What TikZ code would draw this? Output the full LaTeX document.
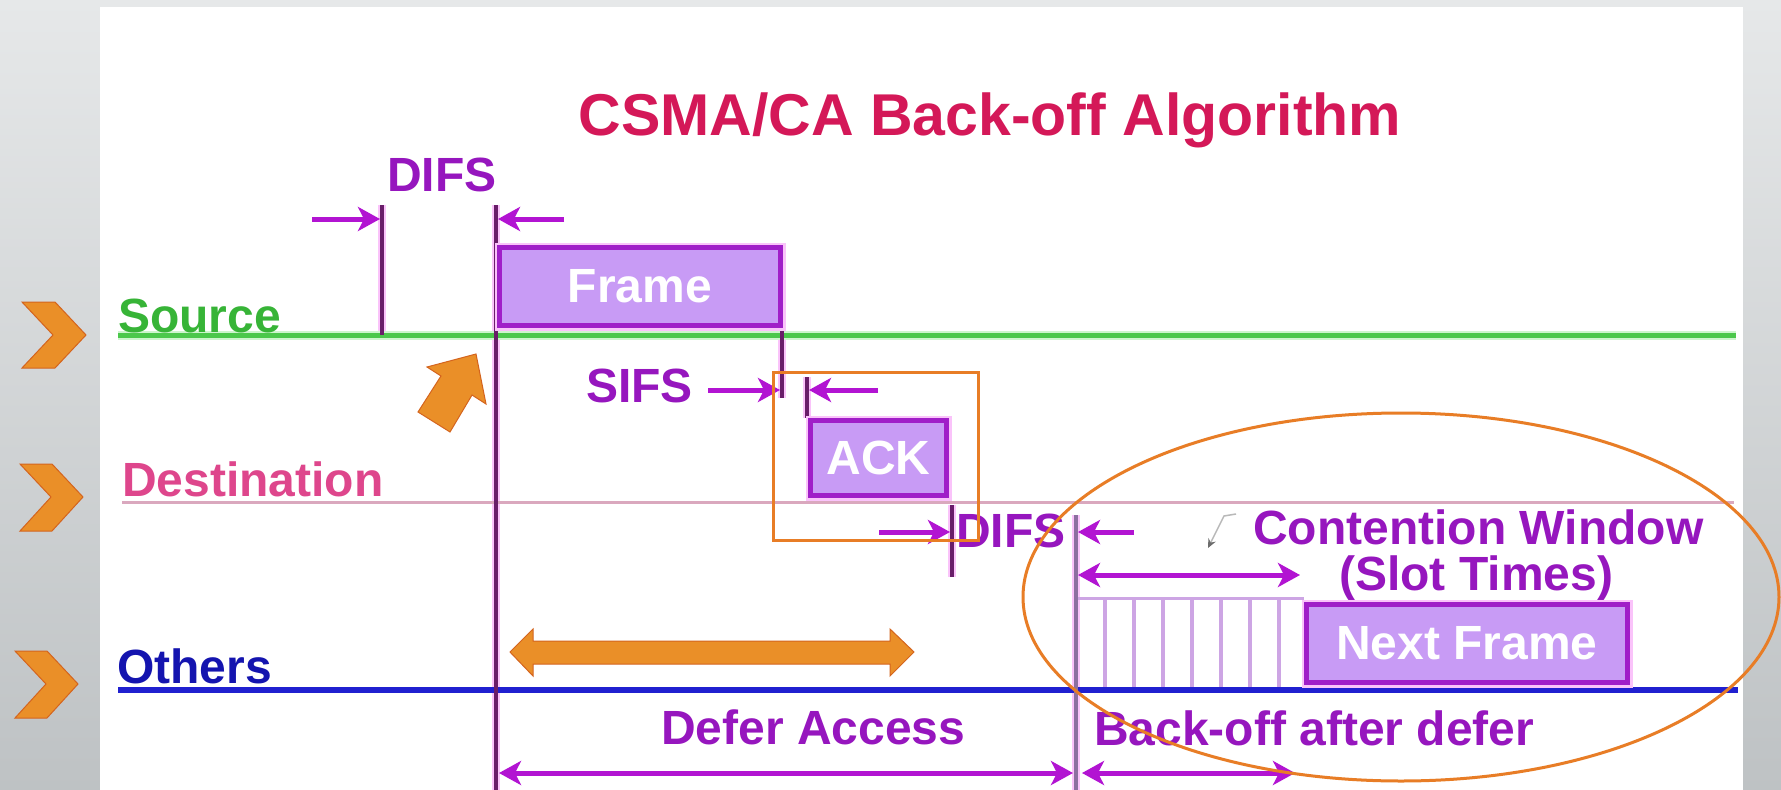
\documentclass[tikz,border=0pt]{standalone}
\usepackage{fontspec}
\setmainfont{Liberation Sans}
\usetikzlibrary{arrows.meta,shapes.geometric}

\definecolor{bgtop}{RGB}{230,232,233}
\definecolor{bgbot}{RGB}{190,194,196}
\definecolor{titlecol}{RGB}{212,24,88}
\definecolor{lblpurple}{RGB}{150,22,190}
\definecolor{arrmag}{RGB}{178,20,210}
\definecolor{vdark}{RGB}{105,30,105}
\definecolor{vgray}{RGB}{140,112,160}
\definecolor{halo}{RGB}{250,195,250}
\definecolor{boxfill}{RGB}{200,155,245}
\definecolor{boxedge}{RGB}{160,30,200}
\definecolor{srcgreen}{RGB}{75,200,75}
\definecolor{srchalo}{RGB}{205,245,205}
\definecolor{srclbl}{RGB}{55,180,55}
\definecolor{dstline}{RGB}{218,168,190}
\definecolor{dstlbl}{RGB}{222,70,140}
\definecolor{othline}{RGB}{32,32,208}
\definecolor{othlbl}{RGB}{20,20,175}
\definecolor{orangef}{RGB}{234,143,40}
\definecolor{oranged}{RGB}{212,100,30}
\definecolor{orangeline}{RGB}{232,125,38}
\definecolor{slotcol}{RGB}{205,165,228}

\begin{document}
\begin{tikzpicture}[x=1pt,y=-1pt,
  lbl/.style={font=\fontsize{48}{48}\selectfont\bfseries, inner sep=0pt, anchor=base west, text=lblpurple},
  pbox/.style={draw=boxedge, line width=5pt, fill=boxfill, text=white, inner sep=0pt,
    font=\fontsize{48}{48}\selectfont\bfseries, preaction={draw=halo, line width=10pt}},
  vhalo/.style={draw=halo, line width=8pt},
  vline/.style={draw=vdark, line width=3.5pt},
  marrow/.style={draw=arrmag, line width=5pt, -{Stealth[length=22pt,width=24pt,inset=6pt]}},
  darrow/.style={draw=arrmag, line width=5pt, {Stealth[length=22pt,width=24pt,inset=6pt]}-{Stealth[length=22pt,width=24pt,inset=6pt]}},
  slotline/.style={draw=slotcol, line width=4pt},
  orangeshape/.style={fill=orangef, draw=oranged, line width=1pt},
  hilite/.style={draw=orangeline, line width=3pt}
]
\useasboundingbox (0,0) rectangle (1781,790);
% background
\fill[top color=bgtop, bottom color=bgbot] (0,0) rectangle (1781,790);
\fill[white] (100,7) rectangle (1743,790);

% coordinates
\coordinate (src0) at (118,335); \coordinate (src1) at (1736,335);
\coordinate (dst0) at (122,502); \coordinate (dst1) at (1734,502);
\coordinate (oth0) at (118,690); \coordinate (oth1) at (1738,690);
\coordinate (v1t) at (382,205); \coordinate (v1b) at (382,335);
\coordinate (v2t) at (496,205); \coordinate (v2b) at (496,790);
\coordinate (vft) at (782,328); \coordinate (vfb) at (782,398);
\coordinate (vat) at (807,377); \coordinate (vab) at (807,418);
\coordinate (vdt) at (952,505); \coordinate (vdb) at (952,577);
\coordinate (v3t) at (1076,515); \coordinate (v3b) at (1076,790);

% halos of vertical markers
\foreach \a/\b in {v1t/v1b, v2t/v2b, vft/vfb, vat/vab, vdt/vdb, v3t/v3b}
  \draw[vhalo] (\a) -- (\b);

% time lines
\draw[srchalo, line width=9pt] (src0) -- (src1);
\draw[srcgreen, line width=5pt] (src0) -- (src1);
\draw[dstline, line width=3pt] (dst0) -- (dst1);

% slot area
\coordinate (slt0) at (1076,598); \coordinate (slt1) at (1304,598);
\draw[slotcol, line width=3pt] (slt0) -- (slt1);
\foreach \sx in {1105,1134,1163,1192,1221,1250,1279}
  \draw[slotline] (\sx,598) -- (\sx,688);

\draw[othline, line width=6pt] (oth0) -- (oth1);

% vertical markers
\draw[vline] (v1t) -- (v1b);
\draw[vline] (v2t) -- (v2b);
\draw[vline] (vft) -- (vfb);
\draw[vline] (vat) -- (vab);
\draw[vline] (vdt) -- (vdb);
\draw[draw=vgray, line width=3.5pt] (v3t) -- (v3b);

% boxes
\node[pbox, minimum width=281pt, minimum height=78pt] (frame) at (640,286.5) {Frame};
\node[pbox, minimum width=136pt, minimum height=75pt] (ack) at (878.5,458) {ACK};
\node[pbox, minimum width=321pt, minimum height=78pt] (next) at (1467,643.5) {Next Frame};

% arrows
\coordinate (a1s) at (312,219); \coordinate (a1e) at (380,219);
\coordinate (a2s) at (564,219); \coordinate (a2e) at (498,219);
\coordinate (a3s) at (708,390); \coordinate (a3e) at (780,390);
\coordinate (a4s) at (878,390); \coordinate (a4e) at (809,390);
\coordinate (a5s) at (879,532); \coordinate (a5e) at (950,532);
\coordinate (a6s) at (1134,532); \coordinate (a6e) at (1078,532);
\coordinate (a7s) at (1078,575); \coordinate (a7e) at (1300,575);
\coordinate (a8s) at (499,773); \coordinate (a8e) at (1073,773);
\coordinate (a9s) at (1082,773); \coordinate (a9e) at (1295,773);
\draw[marrow] (a1s) -- (a1e);
\draw[marrow] (a2s) -- (a2e);
\draw[marrow] (a3s) -- (a3e);
\draw[marrow] (a4s) -- (a4e);
\draw[marrow] (a5s) -- (a5e);
\draw[marrow] (a6s) -- (a6e);
\draw[darrow] (a7s) -- (a7e);
\draw[darrow] (a8s) -- (a8e);
\draw[darrow] (a9s) -- (a9e);

% small pointer
\coordinate (p0) at (1236,514); \coordinate (p1) at (1224,516); \coordinate (p2) at (1208,548);
\draw[line width=1.5pt, color=gray!55, -{Stealth[length=9pt,width=8pt,color=gray!85!black]}] (p0) -- (p1) -- (p2);

% labels
\node[font=\fontsize{59}{59}\selectfont\bfseries, text=titlecol, inner sep=0pt, anchor=base] (title) at (990,135) {CSMA/CA Back-off Algorithm};
\node[lbl] (difs1) at (387,191) {DIFS};
\node[lbl] (sifs) at (586,402) {SIFS};
\node[lbl] (difs2) at (956,547) {DIFS};
\node[lbl] (cw) at (1253,544) {Contention Window};
\node[lbl] (slot) at (1339,590) {(Slot Times)};
\node[lbl] (defer) at (661,744) {Defer Access};
\node[lbl] (backoff) at (1094,745) {Back-off after defer};
\node[lbl, text=srclbl] (srcl) at (118,332) {Source};
\node[lbl, text=dstlbl] (dstl) at (122,496) {Destination};
\node[lbl, text=othlbl] (othl) at (117,683) {Others};

% orange annotations
\draw[orangeshape] (22,302) -- (55,302) -- (86,335) -- (55,368) -- (22,368) -- (53,335) -- cycle;
\draw[orangeshape] (20,464) -- (52,464) -- (83,497) -- (52,531) -- (20,531) -- (51,497) -- cycle;
\draw[orangeshape] (15,651) -- (47,651) -- (78,684) -- (47,718) -- (15,718) -- (46,684) -- cycle;
\draw[orangeshape] (418,412) -- (441,376) -- (427,367) -- (476,354) -- (486,404) -- (472,395) -- (450,432) -- cycle;
\draw[orangeshape] (510,652) -- (533,629) -- (533,641) -- (890,641) -- (890,629) -- (914,652) -- (890,676) -- (890,664) -- (533,664) -- (533,676) -- cycle;
\node[hilite, minimum width=205pt, minimum height=168pt, inner sep=0pt] (hlbox) at (875.5,456) {};
\draw[hilite] (1401,597) ellipse [x radius=378pt, y radius=184pt];
\end{tikzpicture}
\end{document}
